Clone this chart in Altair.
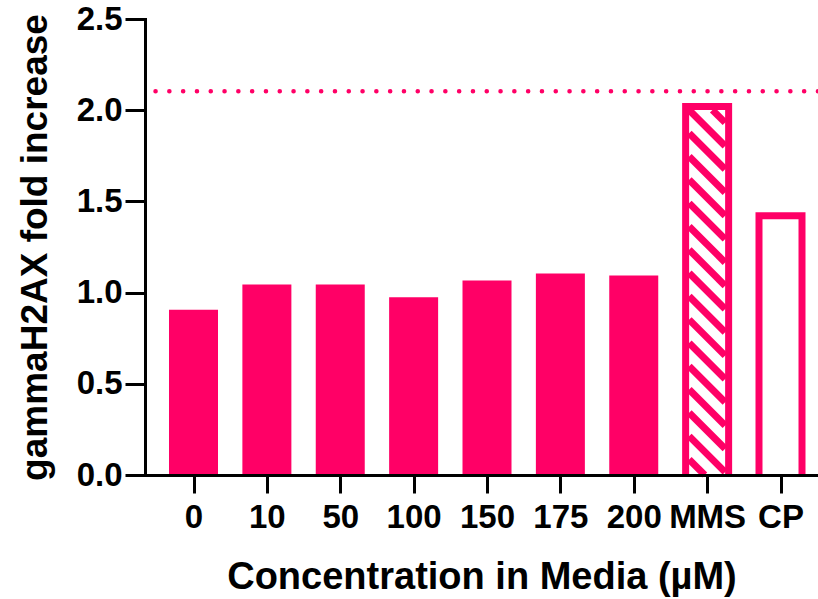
import json
import numpy as np
import pandas as pd
import altair as alt

# ---- data ----
categories = ["0", "10", "50", "100", "150", "175", "200", "MMS", "CP"]
values = [0.906, 1.045, 1.045, 0.975, 1.067, 1.105, 1.094, 2.04, 1.44]
reference_level = 2.104
y_ticks = [0.0, 0.5, 1.0, 1.5, 2.0, 2.5]
hatched_categories = ["MMS"]
open_categories = ["CP"]

x_title = "Concentration in Media (\u00b5M)"
y_title = "gammaH2AX fold increase"

# ---- styling / layout ----
PINK = "#ff0066"
FONT = "Liberation Sans"
W, H = 673, 456
Y_MAX = 2.5
STEP_PX = 73.375
X_MIN = -48.5 / STEP_PX
X_MAX = X_MIN + W / STEP_PX
HALF_FILLED = 24.5 / STEP_PX
HALF_OUTER = 25.0 / STEP_PX
OUTLINE = 7
HALF_INNER = (25.0 - OUTLINE) / STEP_PX
HATCH_PERIOD = 23.3
sx = STEP_PX
sy = H / Y_MAX

df = pd.DataFrame({"cat": categories, "val": values, "idx": range(len(categories))})
special = set(hatched_categories) | set(open_categories)
filled = df[~df["cat"].isin(special)].copy()
filled["lo"] = filled["idx"] - HALF_FILLED
filled["hi"] = filled["idx"] + HALF_FILLED

outlined = df[df["cat"].isin(special)].copy()
outlined["lo"] = outlined["idx"] - HALF_OUTER
outlined["hi"] = outlined["idx"] + HALF_OUTER
outlined["ilo"] = outlined["idx"] - HALF_INNER
outlined["ihi"] = outlined["idx"] + HALF_INNER
outlined["itop"] = outlined["val"] - OUTLINE / sy

# hatch segments ("\" direction) clipped to the inside of the hatched bars
segs = []
for _, r in df[df["cat"].isin(hatched_categories)].iterrows():
    wb = 2 * HALF_INNER * sx
    hb = r["val"] * sy - OUTLINE
    kmin = -int(np.ceil(hb / HATCH_PERIOD)) - 2
    kmax = int(np.ceil(wb / HATCH_PERIOD)) + 2
    for k in range(kmin, kmax + 1):
        off = k * HATCH_PERIOD
        xs = max(0.0, off)
        xe = min(wb, hb + off)
        if xe > xs:
            ys, ye = xs - off, xe - off
            segs.append({
                "x0": r["idx"] - HALF_INNER + xs / sx,
                "x1": r["idx"] - HALF_INNER + xe / sx,
                "y0": r["val"] - (OUTLINE + ys) / sy,
                "y1": r["val"] - (OUTLINE + ye) / sy,
            })
hatch_df = pd.DataFrame(segs)

label_expr = "%s[datum.value]" % json.dumps(categories)

x_axis = alt.Axis(
    values=list(range(len(categories))), labelExpr=label_expr, title=x_title,
    labelFont=FONT, labelFontSize=33, labelFontWeight="bold", labelColor="black",
    labelPadding=8, labelFlush=False, labelOverlap=False,
    tickSize=18, tickWidth=3, tickColor="black",
    domainWidth=3, domainColor="black", grid=False,
    titleFont=FONT, titleFontSize=38, titleFontWeight="bold", titleColor="black",
    titlePadding=24, zindex=1,
)
y_axis = alt.Axis(
    values=y_ticks, format=".1f", title=y_title,
    labelFont=FONT, labelFontSize=33, labelFontWeight="bold", labelColor="black",
    labelPadding=3, tickSize=20, tickWidth=3, tickColor="black",
    domainWidth=3, domainColor="black", domainCap="square", grid=False,
    titleFont=FONT, titleFontSize=37, titleFontWeight="bold", titleColor="black",
    titlePadding=22, zindex=1,
)
x_scale = alt.Scale(domain=[X_MIN, X_MAX], nice=False, zero=False)
y_scale = alt.Scale(domain=[0, Y_MAX], nice=False)


def xq(field):
    return alt.X(f"{field}:Q", scale=x_scale, axis=x_axis, title=x_title)


def yq(field):
    return alt.Y(f"{field}:Q", scale=y_scale, axis=y_axis, title=y_title)


bars = alt.Chart(filled).mark_bar(color=PINK).encode(
    x=xq("lo"), x2="hi:Q", y=yq("val"), y2=alt.datum(0)
)

outer = alt.Chart(outlined).mark_bar(color=PINK).encode(
    x=xq("lo"), x2="hi:Q", y=yq("val"), y2=alt.datum(0)
)
inner = alt.Chart(outlined).mark_bar(color="white").encode(
    x=xq("ilo"), x2="ihi:Q", y=yq("itop"), y2=alt.datum(0)
)

hatch = alt.Chart(hatch_df).mark_rule(
    color=PINK, strokeWidth=OUTLINE, strokeCap="butt"
).encode(x=xq("x0"), x2="x1:Q", y=yq("y0"), y2="y1:Q")

ref = alt.Chart(pd.DataFrame({"ref": [reference_level]})).mark_rule(
    color=PINK, strokeWidth=4.5, strokeDash=[0.1, 13.7], strokeCap="round"
).encode(y=yq("ref"))

chart = (
    alt.layer(ref, bars, outer, inner, hatch)
    .properties(
        width=W, height=H,
        padding={"left": 145, "top": 19, "right": 0, "bottom": 124},
        autosize=alt.AutoSizeParams(type="none"),
        background="white",
    )
    .configure_view(stroke=None)
)

chart.save("out.html", embed_options={"renderer": "svg", "actions": False})
